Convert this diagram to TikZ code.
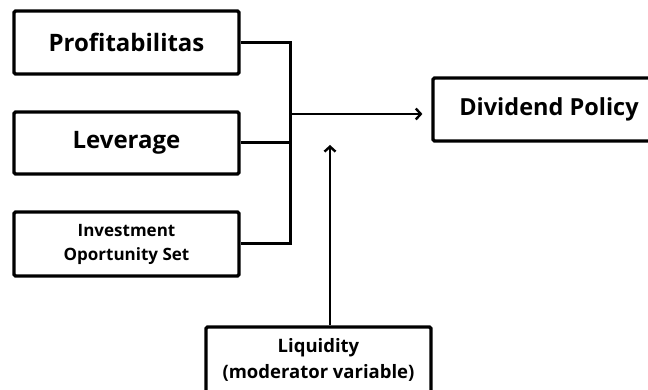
\documentclass[tikz,border=0pt]{standalone}
\usepackage{fontspec}
\setmainfont{Open Sans}
\usetikzlibrary{arrows.meta}
\tikzset{
  box/.style={draw=black, line width=3.2pt, rounded corners=1.5pt, inner sep=0pt, align=center, font=\bfseries},
  conn/.style={line width=3pt},
  arr/.style={line width=2.4pt, -{Straight Barb[length=5pt,width=11pt,line width=2.4pt]}}
}
\begin{document}
\begin{tikzpicture}[x=1pt,y=1pt]
\useasboundingbox (0,0) rectangle (648,390);
\clip (0,0) rectangle (648,390);
\node[box, minimum width=225pt, minimum height=63pt, font=\bfseries\fontsize{24}{28}\selectfont] (p) at (126.5,390-42.5) {Profitabilitas};
\node[box, minimum width=225pt, minimum height=62pt, font=\bfseries\fontsize{24}{28}\selectfont] (l) at (126.5,390-143) {Leverage};
\node[box, minimum width=225pt, minimum height=64pt, font=\bfseries\fontsize{17}{24}\selectfont] (i) at (126.5,390-244) {Investment\\Oportunity Set};
\node[box, minimum width=232pt, minimum height=63pt, font=\bfseries\fontsize{23.5}{28}\selectfont] (d) at (549,390-109.5) {Dividend Policy};
\node[box, minimum width=225pt, minimum height=66pt, font=\bfseries\fontsize{18.5}{26}\selectfont] (q) at (318.5,390-360) {Liquidity\\(moderator variable)};
\coordinate (busx) at (290,0);
\coordinate (am) at (290,390-114);
\coordinate (mt) at (330,390-145);
\draw[conn] (p.east) -- (p.east -| busx) -- (i.east -| busx) -- (i.east);
\draw[conn] (l.east) -- (l.east -| busx);
\draw[arr, shorten >=9pt] (am) -- (am -| d.west);
\draw[arr] (q.north -| mt) -- (mt);
\end{tikzpicture}
\end{document}
